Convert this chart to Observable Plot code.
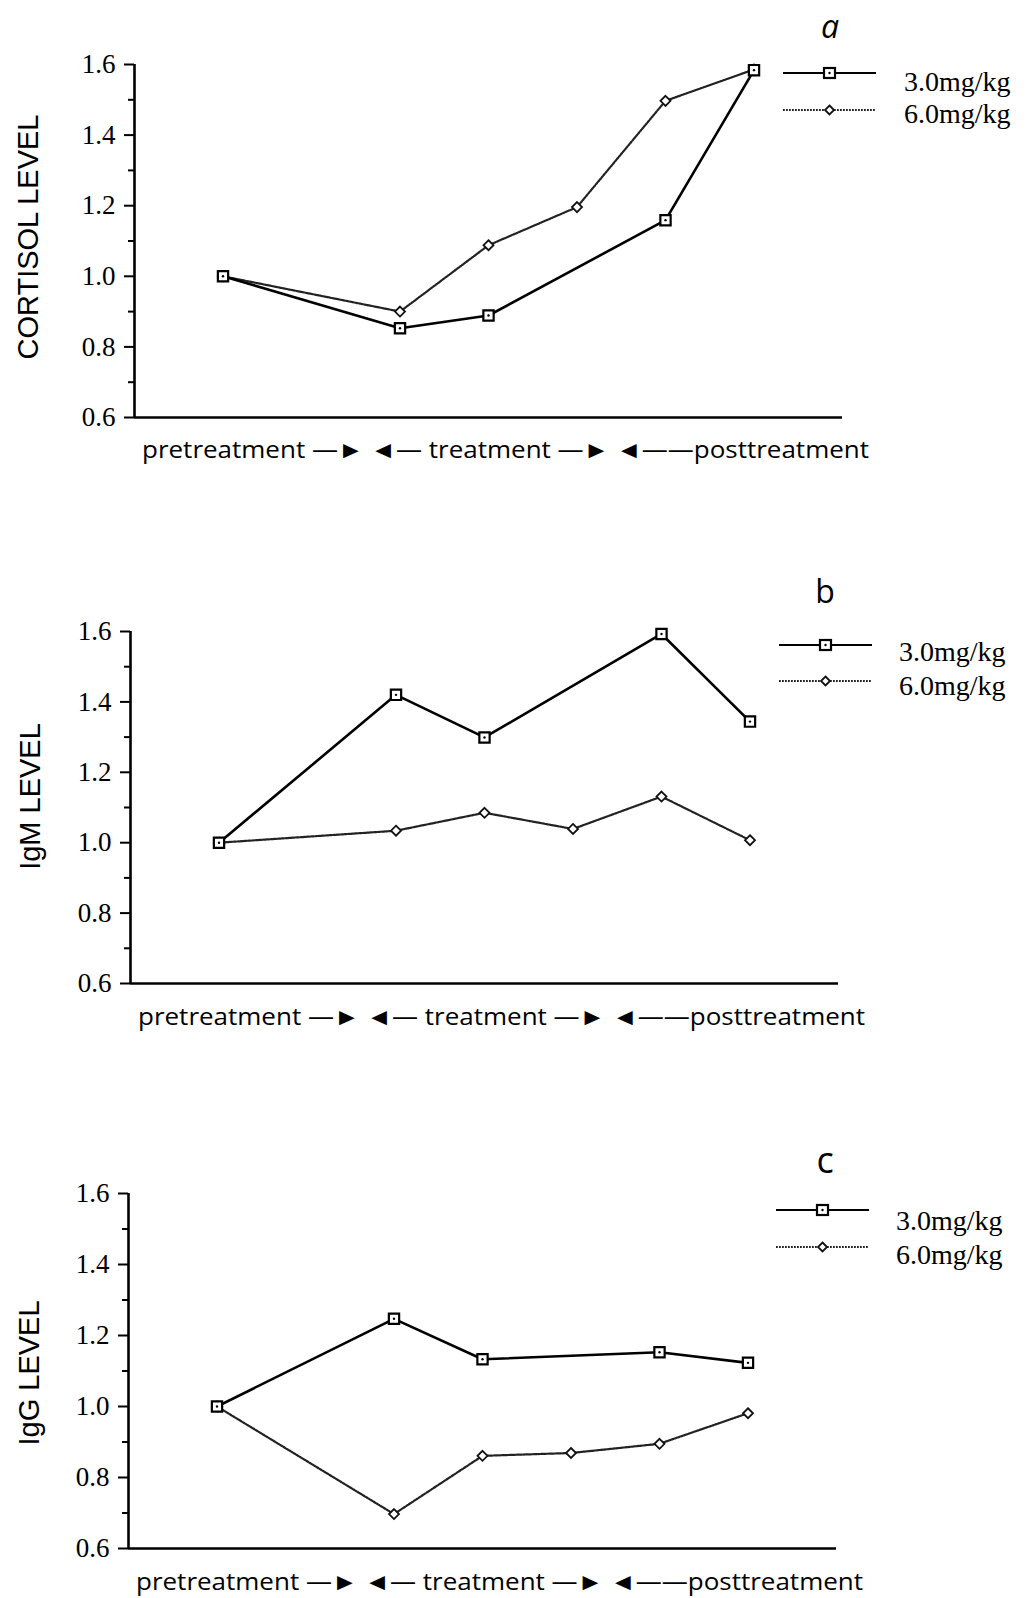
<!DOCTYPE html>
<html><head><meta charset="utf-8">
<script src="https://cdn.jsdelivr.net/npm/d3@7"></script>
<script src="https://cdn.jsdelivr.net/npm/@observablehq/plot@0.6"></script>
<style>
body{margin:0;background:#fff;}
#page{position:relative;width:1026px;height:1598px;overflow:hidden;background:#fff;color:#000;}
.panel{position:absolute;left:0;}
#overlay{position:absolute;left:0;top:0;}
</style></head><body><div id="page"></div>
<script>
// ---------- data ----------
const seriesNames = ["3.0mg/kg", "6.0mg/kg"];
const xLabel = "pretreatment —► ◄— treatment —► ◄——posttreatment";
const yTicks = [0.6, 0.8, 1.0, 1.2, 1.4, 1.6];
const yMinor = [0.7, 0.9, 1.1, 1.3, 1.5];
const panelTitles = ["CORTISOL LEVEL", "IgM LEVEL", "IgG LEVEL"];
const panelLetters = ["a", "b", "c"];

// panel a: cortisol
const cortisolX3 = [1, 3, 4, 6, 7];
const cortisolY3 = [1.00, 0.853, 0.889, 1.159, 1.584];
const cortisolX6 = [1, 3, 4, 5, 6, 7];
const cortisolY6 = [1.00, 0.900, 1.088, 1.196, 1.497, 1.586];
// panel b: IgM
const igmX3 = [1, 3, 4, 6, 7];
const igmY3 = [1.00, 1.420, 1.299, 1.593, 1.344];
const igmX6 = [1, 3, 4, 5, 6, 7];
const igmY6 = [1.00, 1.034, 1.085, 1.039, 1.131, 1.007];
// panel c: IgG
const iggX3 = [1, 3, 4, 6, 7];
const iggY3 = [1.00, 1.247, 1.133, 1.153, 1.123];
const iggX6 = [1, 3, 4, 5, 6, 7];
const iggY6 = [1.00, 0.697, 0.861, 0.869, 0.895, 0.981];

const zip = (xs, ys) => xs.map((x, i) => ({x, y: ys[i]}));

// ---------- layout ----------
const layouts = [
  {top: 0,    height: 500, mt: 64, mb: 83,  ml: 134, xr: 842, tdx: -106, tdy: -4, ldx: 17, ldy: 33,
   lg: {x1: 783, x2: 876, y1: 73, y2: 110, tx: 904, b1: 91, b2: 123}, letter: {x: 830, y: 38, size: 32, style: "italic"}},
  {top: 560,  height: 500, mt: 71, mb: 77,  ml: 130, xr: 838, tdx: -100, tdy: -11, ldx: 17, ldy: 34,
   lg: {x1: 779, x2: 872, y1: 645, y2: 681, tx: 899, b1: 661, b2: 695}, letter: {x: 825, y: 603, size: 32, style: "normal"}},
  {top: 1120, height: 478, mt: 73, mb: 50,  ml: 128, xr: 836, tdx: -99, tdy: 2, ldx: 17, ldy: 34,
   lg: {x1: 776, x2: 869, y1: 1210, y2: 1247, tx: 896, b1: 1230, b2: 1264}, letter: {x: 825, y: 1173, size: 36, style: "normal"}}
];
const panelData = [
  [zip(cortisolX3, cortisolY3), zip(cortisolX6, cortisolY6)],
  [zip(igmX3, igmY3), zip(igmX6, igmY6)],
  [zip(iggX3, iggY3), zip(iggX6, iggY6)]
];

const page = document.getElementById("page");

panelData.forEach(([d3s, d6s], i) => {
  const L = layouts[i];
  const svg = Plot.plot({
    width: 1026, height: L.height,
    marginTop: L.mt, marginBottom: L.mb, marginLeft: L.ml, marginRight: 1026 - L.xr,
    style: {background: "transparent", color: "#000", overflow: "visible"},
    x: {domain: [0, 8], axis: null},
    y: {domain: [0.6, 1.6], axis: null},
    marks: [
      Plot.ruleY([0.6], {strokeWidth: 2.6, stroke: "#000"}),
      Plot.ruleX([0], {strokeWidth: 2.6, stroke: "#000"}),
      Plot.axisY({ticks: yMinor, tickSize: 6, tickFormat: () => "", strokeWidth: 2, label: null}),
      Plot.axisY({ticks: yTicks, tickSize: 10, tickPadding: 9, tickFormat: d => d.toFixed(1),
                  fontSize: 27, fontFamily: "Liberation Serif", strokeWidth: 2, label: null}),
      Plot.line(d6s, {x: "x", y: "y", stroke: "#222", strokeWidth: 2.2, strokeDasharray: "1.8,1.2"}),
      Plot.line(d3s, {x: "x", y: "y", stroke: "#000", strokeWidth: 2.6}),
      Plot.dot(d6s, {x: "x", y: "y", symbol: "diamond2", r: 4.5, stroke: "#111", fill: "white", strokeWidth: 1.8}),
      Plot.dot(d3s, {x: "x", y: "y", symbol: "square", r: 5.8, stroke: "#000", fill: "white", strokeWidth: 2.2}),
      Plot.dot(d3s, {x: "x", y: "y", r: 1.2, fill: "#000"}),
      Plot.text([panelTitles[i]], {text: d => d, frameAnchor: "left", textAnchor: "middle", lineAnchor: "middle",
                  dx: L.tdx, dy: L.tdy, rotate: -90,
                  fontSize: 29, fontFamily: "Liberation Sans", fill: "#000"}),
      Plot.text([xLabel], {text: d => d, frameAnchor: "bottom", lineAnchor: "middle", dx: L.ldx, dy: L.ldy,
                  fontSize: 24, fontFamily: "Open Sans", fontWeight: 500, fill: "#000"})
    ]
  });
  d3.select(svg).selectAll("text")
    .filter(function() { return this.textContent === xLabel; })
    .attr("textLength", 727).attr("lengthAdjust", "spacingAndGlyphs");
  const wrap = document.createElement("div");
  wrap.className = "panel";
  wrap.style.top = L.top + "px";
  wrap.appendChild(svg);
  page.appendChild(wrap);
});

// ---------- legends and panel letters ----------
const ov = d3.select(page).append("svg").attr("id", "overlay")
  .attr("width", 1026).attr("height", 1598);
layouts.forEach((L, i) => {
  const g = L.lg;
  const mid = (g.x1 + g.x2) / 2;
  ov.append("line").attr("x1", g.x1).attr("x2", g.x2).attr("y1", g.y1).attr("y2", g.y1)
    .attr("stroke", "#000").attr("stroke-width", 2.2);
  ov.append("rect").attr("x", mid - 5.5).attr("y", g.y1 - 5).attr("width", 11).attr("height", 10)
    .attr("fill", "white").attr("stroke", "#000").attr("stroke-width", 2.2);
  ov.append("circle").attr("cx", mid).attr("cy", g.y1).attr("r", 1.2).attr("fill", "#000");
  ov.append("line").attr("x1", g.x1).attr("x2", g.x2).attr("y1", g.y2).attr("y2", g.y2)
    .attr("stroke", "#222").attr("stroke-width", 2.2).attr("stroke-dasharray", "1.8,1.2");
  ov.append("path").attr("d", `M${mid},${g.y2 - 4.5}L${mid + 4.5},${g.y2}L${mid},${g.y2 + 4.5}L${mid - 4.5},${g.y2}Z`)
    .attr("fill", "white").attr("stroke", "#111").attr("stroke-width", 1.8);
  ov.append("text").attr("x", g.tx).attr("y", g.b1).text(seriesNames[0])
    .attr("font-family", "Liberation Serif").attr("font-size", 28).attr("fill", "#000");
  ov.append("text").attr("x", g.tx).attr("y", g.b2).text(seriesNames[1])
    .attr("font-family", "Liberation Serif").attr("font-size", 28).attr("fill", "#000");
  ov.append("text").attr("x", L.letter.x).attr("y", L.letter.y).text(panelLetters[i])
    .attr("text-anchor", "middle").attr("font-family", "Open Sans").attr("font-style", L.letter.style)
    .attr("font-size", L.letter.size).attr("fill", "#000");
});
</script></body></html>
